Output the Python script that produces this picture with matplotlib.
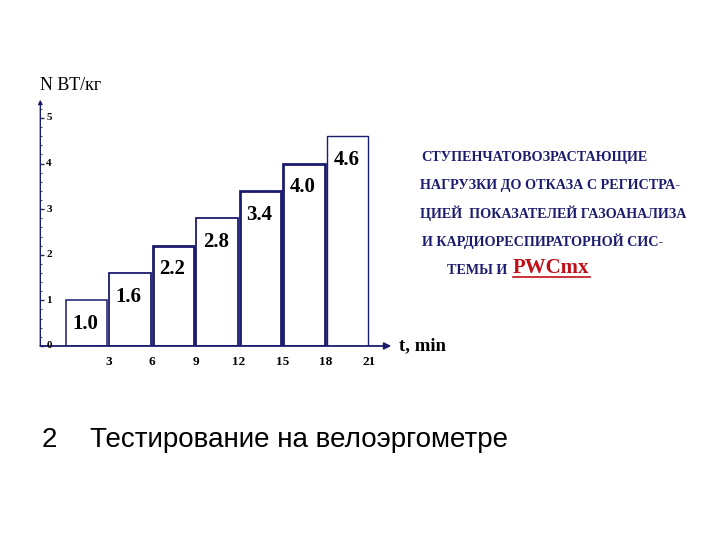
import numpy as np
import matplotlib
matplotlib.use('Agg')
import matplotlib.pyplot as plt
from matplotlib.lines import Line2D

# step test data: load (W/kg) per 3-minute stage
stage_start = [0, 3, 6, 9, 12, 15, 18]
stage_load = [1.0, 1.6, 2.2, 2.8, 3.4, 4.0, 4.6]
x_ticks = [3, 6, 9, 12, 15, 18, 21]
y_ticks = [0, 1, 2, 3, 4, 5]

text_lines = [
    'СТУПЕНЧАТОВОЗРАСТАЮЩИЕ',
    'НАГРУЗКИ ДО ОТКАЗА С РЕГИСТРА-',
    'ЦИЕЙ  ПОКАЗАТЕЛЕЙ ГАЗОАНАЛИЗА',
    'И КАРДИОРЕСПИРАТОРНОЙ СИС-',
]

navy = '#1c1c6e'
serif = 'Liberation Serif'

fig = plt.figure(figsize=(7.2, 5.4), dpi=100)
ax = fig.add_axes([0.056, 0.3593, 0.568, 0.473])
ax.set_xlim(-1.7, 26.5)
ax.set_ylim(0, 5.6)
for s in ax.spines.values():
    s.set_visible(False)

edge_widths = [1.1, 1.3, 2.0, 1.3, 2.0, 2.0, 1.0]
ax.bar(np.array(stage_start) + 0.06, stage_load, width=2.84, align='edge',
       color='white', edgecolor=navy, linewidth=edge_widths, zorder=2)
for x0, v in zip(stage_start, stage_load):
    ax.text(x0 + 1.4, v - 0.52, f'{v:.1f}', ha='center', va='center',
            fontsize=15, fontweight='bold', family=serif, zorder=3)

# axes with arrows
ax.annotate('', xy=(22.5, 0), xytext=(-1.7, 0),
            arrowprops=dict(arrowstyle='-|>', color=navy, lw=1.3,
                            mutation_scale=10, shrinkA=0, shrinkB=0))
ax.annotate('', xy=(-1.7, 5.4), xytext=(-1.7, 0),
            arrowprops=dict(arrowstyle='-|>', color=navy, lw=1.0,
                            mutation_scale=6, shrinkA=0, shrinkB=0))

ax.set_xticks(x_ticks)
ax.set_xticklabels([str(t) for t in x_ticks], fontsize=9.5, fontweight='bold',
                   family=serif)
ax.tick_params(axis='x', length=0, pad=7)

ax.set_yticks(y_ticks)
ax.set_yticklabels([])
ax.set_yticks(np.arange(0, 5.4, 0.2), minor=True)
ax.tick_params(axis='y', which='major', direction='in', length=3, width=1,
               color='#333333')
ax.tick_params(axis='y', which='minor', direction='in', length=1.5,
               width=0.8, color='#555555')
for t in y_ticks:
    ax.text(-1.1, t, str(t), ha='center', va='center', fontsize=8,
            fontweight='bold', family=serif)

ax.text(23.0, 0, 't, min', ha='left', va='center', fontsize=13.5,
        fontweight='bold', family=serif)
fig.text(40 / 720, 1 - 85 / 540, 'N ВТ/кг', ha='left', va='center',
         fontsize=13, family=serif)

# description on the right
line_x = [421, 420, 420, 422]
line_y = [157, 185, 213, 241]
for s, px, py in zip(text_lines, line_x, line_y):
    fig.text(px / 720, 1 - py / 540, s, ha='left', va='center', fontsize=10.2,
             fontweight='bold', family=serif, color=navy)
fig.text(447 / 720, 1 - 270 / 540, 'ТЕМЫ И', ha='left', va='center',
         fontsize=10.2, fontweight='bold', family=serif, color=navy)
pwc = fig.text(513 / 720, 1 - 268 / 540, 'PWCmx', ha='left', va='center',
               fontsize=15, fontweight='bold', family=serif, color='#c0101a')
fig.canvas.draw()
bb = pwc.get_window_extent().transformed(fig.transFigure.inverted())
fig.add_artist(Line2D([bb.x0, bb.x1], [bb.y0 + 0.002, bb.y0 + 0.002],
                      color='#c0101a', lw=1.2))

fig.text(42 / 720, 1 - 440 / 540, '2', ha='left', va='center', fontsize=20,
         family='Liberation Sans')
fig.text(90 / 720, 1 - 440 / 540, 'Тестирование на велоэргометре',
         ha='left', va='center', fontsize=20, family='Liberation Sans')

fig.savefig('out.png', dpi=100)
